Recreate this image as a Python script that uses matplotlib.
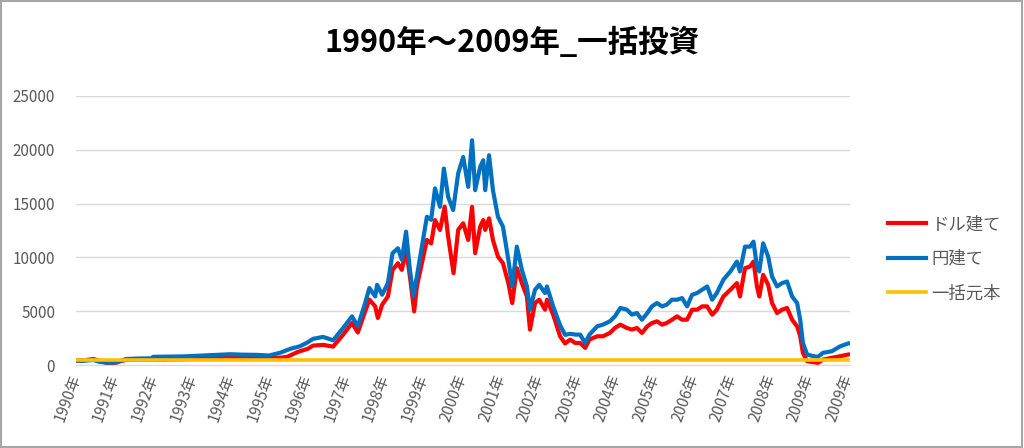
import numpy as np
import matplotlib
matplotlib.use("Agg")
import matplotlib.pyplot as plt
from matplotlib.patches import Rectangle

plt.rcParams['font.family'] = ['Noto Sans CJK JP', 'DejaVu Sans']

# Datos (posición en años desde el inicio, valor)
t_yen = [0.0, 0.15, 0.3, 0.45, 0.6, 0.8, 1.0, 1.15, 1.3, 1.6, 1.95, 2.0, 2.4, 2.8, 3.3, 3.7,
         4.0, 4.3, 4.7, 5.0, 5.3, 5.55, 5.8, 6.0, 6.14, 6.4, 6.66, 6.92, 7.15, 7.3, 7.49, 7.6,
         7.75, 7.8, 7.93, 8.08, 8.2, 8.34, 8.44, 8.55, 8.65, 8.74, 8.83, 8.96, 9.09, 9.2, 9.3,
         9.43, 9.53, 9.64, 9.77, 9.9, 10.03, 10.16, 10.26, 10.34, 10.47, 10.55, 10.6, 10.7,
         10.8, 10.93, 11.06, 11.2, 11.3, 11.42, 11.55, 11.68, 11.76, 11.89, 12.0, 12.15, 12.2,
         12.36, 12.54, 12.67, 12.8, 12.93, 13.06, 13.19, 13.3, 13.5, 13.65, 13.83, 13.96, 14.1,
         14.27, 14.4, 14.53, 14.66, 14.8, 14.92, 15.05, 15.18, 15.3, 15.44, 15.57, 15.7, 15.83,
         15.96, 16.09, 16.22, 16.35, 16.48, 16.6, 16.77, 16.95, 17.12, 17.2, 17.33, 17.46,
         17.55, 17.64, 17.7, 17.8, 17.93, 18.03, 18.16, 18.29, 18.42, 18.55, 18.68, 18.76,
         18.83, 18.94, 19.1, 19.22, 19.35, 19.58, 19.8, 20.0]
yen = [420, 380, 430, 470, 300, 220, 230, 380, 560, 600, 620, 760, 780, 800, 880, 950,
       1000, 960, 940, 880, 1150, 1500, 1740, 2100, 2430, 2610, 2300, 3440, 4520, 3590, 5760, 7150,
       6370, 7450, 6530, 7610, 10390, 10850, 9780, 12390, 8840, 6370, 8230, 11000, 13780, 13500, 16410,
       14700, 18260, 15630, 14400, 17800, 19330, 16560, 20880, 16250, 18410, 19030, 16250, 19490,
       16250, 13780, 12860, 9770, 7300, 11000, 8840, 7300, 5140, 6990, 7450, 6690, 7300,
       5450, 3700, 2800, 2900, 2830, 2820, 2050, 2820, 3590, 3750, 4060, 4520, 5300,
       5140, 4680, 4830, 4210, 4830, 5450, 5760, 5450, 5600, 6070, 6070, 6220, 5450,
       6530, 6690, 6990, 7300, 6070, 6690, 7920, 8690, 9610, 8690, 11000, 11000,
       11460, 9150, 8690, 11310, 10080, 8230, 7300, 7610, 7760, 6370, 5760, 4210,
       2050, 970, 820, 760, 1130, 1280, 1740, 2000]

t_usd = [0.0, 0.15, 0.3, 0.45, 0.6, 0.8, 1.0, 1.15, 1.3, 1.6, 2.0, 2.3, 2.5, 3.0, 3.3, 3.7,
         4.0, 4.3, 4.7, 5.0, 5.3, 5.47, 5.73, 5.8, 6.0, 6.14, 6.4, 6.66, 6.92, 7.15, 7.3, 7.49,
         7.6, 7.75, 7.82, 7.93, 8.08, 8.2, 8.34, 8.44, 8.55, 8.65, 8.76, 8.83, 8.96, 9.09, 9.2,
         9.3, 9.43, 9.55, 9.64, 9.78, 9.9, 10.03, 10.16, 10.26, 10.34, 10.47, 10.55, 10.6, 10.7,
         10.8, 10.93, 11.06, 11.2, 11.3, 11.42, 11.55, 11.68, 11.76, 11.89, 12.0, 12.15, 12.2,
         12.36, 12.54, 12.67, 12.8, 12.93, 13.06, 13.19, 13.3, 13.5, 13.65, 13.83, 13.96, 14.1,
         14.27, 14.4, 14.53, 14.66, 14.8, 14.92, 15.05, 15.18, 15.3, 15.44, 15.57, 15.7, 15.83,
         15.96, 16.09, 16.22, 16.35, 16.48, 16.6, 16.77, 16.95, 17.12, 17.2, 17.33, 17.46,
         17.55, 17.64, 17.7, 17.8, 17.93, 18.03, 18.16, 18.29, 18.42, 18.55, 18.68, 18.76,
         18.83, 18.94, 19.1, 19.22, 19.35, 19.58, 19.8, 20.0]
usd = [400, 420, 480, 560, 400, 180, 170, 350, 480, 500, 500, 470, 510, 560, 670, 680,
       700, 650, 680, 640, 680, 760, 1190, 1280, 1500, 1800, 1870, 1710, 2820, 3900, 3020, 4980,
       6070, 5450, 4370, 5600, 6370, 8840, 9460, 8840, 10700, 8230, 4980, 7300, 9460, 11620, 11300,
       13470, 12550, 14710, 11930, 8530, 12550, 13170, 11620, 14700, 10390, 12860, 13470, 12550, 13630,
       11620, 10080, 9460, 7610, 5760, 9000, 7610, 6370, 3290, 5760, 6070, 5140, 6070,
       4680, 2670, 2000, 2360, 2050, 2050, 1590, 2360, 2670, 2670, 2980, 3440, 3750,
       3440, 3290, 3440, 2980, 3600, 3900, 4060, 3750, 3900, 4210, 4520, 4210, 4210,
       5140, 5140, 5450, 5450, 4680, 5140, 6370, 6990, 7610, 6370, 9000, 9150,
       9610, 7300, 6370, 8380, 7450, 5760, 4830, 5140, 5300, 4210, 3590, 2670,
       1130, 350, 260, 200, 500, 670, 820, 970]

t_principal = [0.0, 20.0]
principal = [500, 500]

year_labels = [f"{y}年" for y in range(1990, 2010)] + ["2009年"]

fig = plt.figure(figsize=(10.24, 4.48), dpi=100)
ax = fig.add_axes([76 / 1024, 1 - 365 / 448, (850 - 76) / 1024, (365 - 96) / 448])

ax.plot(t_usd, usd, color="#FF0000", lw=3, label="ドル建て", solid_joinstyle="round")
ax.plot(t_yen, yen, color="#0070C0", lw=3, label="円建て", solid_joinstyle="round")
ax.plot(t_principal, principal, color="#FFC000", lw=2.6, label="一括元本")

ax.set_xlim(0, 20.05)
ax.set_ylim(0, 25000)
ax.set_yticks(np.arange(0, 25001, 5000))
ax.set_xticks(range(len(year_labels)))
ax.set_xticklabels(year_labels, rotation=70, ha="right", va="center",
                   rotation_mode="anchor", fontsize=11, color="#595959")
ax.tick_params(axis="y", labelsize=11, colors="#595959", length=0, pad=15)
ax.tick_params(axis="x", length=0, pad=7)
ax.grid(axis="y", color="#D9D9D9", lw=1)
ax.set_axisbelow(True)
for s in ["top", "right", "left"]:
    ax.spines[s].set_visible(False)
ax.spines["bottom"].set_color("#D9D9D9")

fig.suptitle("1990年～2009年_一括投資", x=0.5, y=0.94, fontsize=22, fontweight="bold", color="black")

leg = ax.legend(loc="center left", bbox_to_anchor=(0.852, 0.422), bbox_transform=fig.transFigure,
                frameon=False, fontsize=12.5, handlelength=2.2, labelspacing=0.95, handletextpad=0.3)
for txt in leg.get_texts():
    txt.set_color("#595959")

fig.patches.append(Rectangle((0.001, 0.002), 0.997, 0.995, transform=fig.transFigure,
                             fill=False, edgecolor="#A6A6A6", lw=1.5))

fig.savefig("out.png", dpi=100)
